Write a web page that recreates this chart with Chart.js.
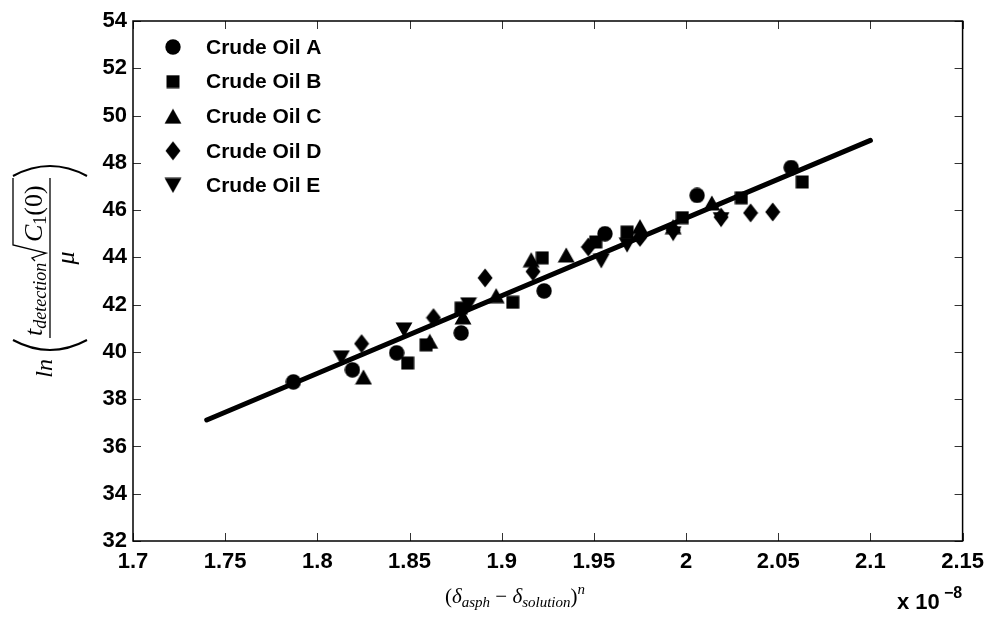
<!DOCTYPE html>
<html>
<head>
<meta charset="utf-8">
<script src="https://cdn.jsdelivr.net/npm/chart.js@4.4.1/dist/chart.umd.min.js"></script>
<style>
  html, body { margin: 0; padding: 0; background: #fff; }
</style>
</head>
<body>
<canvas id="myChart" width="992" height="622"></canvas>
<script>
(() => {
    // tick labels (x values are in units of 1e-8)
    const xTicks = [1.7, 1.75, 1.8, 1.85, 1.9, 1.95, 2, 2.05, 2.1, 2.15];
    const yTicks = [32, 34, 36, 38, 40, 42, 44, 46, 48, 50, 52, 54];

    const seriesNames = ["Crude Oil A", "Crude Oil B", "Crude Oil C", "Crude Oil D", "Crude Oil E"];

    const oilA_x = [1.787, 1.819, 1.843, 1.878, 1.923, 1.956, 2.006, 2.057];
    const oilA_y = [38.73, 39.24, 39.96, 40.8, 42.58, 45.0, 46.62, 47.8];

    const oilB_x = [1.849, 1.859, 1.878, 1.906, 1.922, 1.951, 1.968, 1.998, 2.030, 2.063];
    const oilB_y = [39.53, 40.3, 41.85, 42.1, 43.98, 44.65, 45.07, 45.68, 46.52, 47.19];

    const oilC_x = [1.825, 1.861, 1.879, 1.897, 1.916, 1.935, 1.975, 1.993, 2.014];
    const oilC_y = [38.94, 40.45, 41.48, 42.38, 43.9, 44.1, 45.3, 45.3, 46.3];

    const oilD_x = [1.824, 1.863, 1.891, 1.917, 1.947, 1.975, 1.993, 2.019, 2.035, 2.047];
    const oilD_y = [40.35, 41.45, 43.13, 43.4, 44.44, 44.85, 45.15, 45.7, 45.88, 45.92];

    const oilE_x = [1.813, 1.847, 1.882, 1.954, 1.968, 1.993, 2.019];
    const oilE_y = [39.75, 40.93, 41.99, 43.85, 44.52, 45.0, 45.6];

    // fitted line end points
    const fitX = [1.74, 2.10];
    const fitY = [37.12, 48.95];

    const toPoints = (xs, ys) => xs.map((x, i) => ({ x: x, y: ys[i] }));

    // marker images (MATLAB-like filled markers)
    const makeMarker = (w, h, draw) => {
        const c = document.createElement("canvas");
        c.width = w;
        c.height = h;
        const g = c.getContext("2d");
        g.fillStyle = "#000";
        g.beginPath();
        draw(g, w, h);
        g.closePath();
        g.fill();
        return c;
    };

    const circleMk = makeMarker(16, 16, (g) => g.arc(8, 8, 7.7, 0, Math.PI * 2));
    const squareMk = makeMarker(14, 14, (g) => g.rect(0.5, 0.5, 13, 13));
    const triMk = makeMarker(18, 16, (g) => {
        g.moveTo(9, 0.5);
        g.lineTo(17.5, 15.5);
        g.lineTo(0.5, 15.5);
    });
    const diamondMk = makeMarker(16, 20, (g) => {
        g.moveTo(8, 0.5);
        g.lineTo(15.5, 10);
        g.lineTo(8, 19.5);
        g.lineTo(0.5, 10);
    });
    const invTriMk = makeMarker(18, 16, (g) => {
        g.moveTo(0.5, 0.5);
        g.lineTo(17.5, 0.5);
        g.lineTo(9, 15.5);
    });

    const markers = [circleMk, squareMk, triMk, diamondMk, invTriMk];
    const seriesData = [
        toPoints(oilA_x, oilA_y),
        toPoints(oilB_x, oilB_y),
        toPoints(oilC_x, oilC_y),
        toPoints(oilD_x, oilD_y),
        toPoints(oilE_x, oilE_y),
    ];

    const datasets = seriesNames.map((name, i) => ({
        label: name,
        data: seriesData[i],
        pointStyle: markers[i],
        showLine: false,
        order: 1,
    }));
    datasets.push({
        label: "fit",
        type: "line",
        data: toPoints(fitX, fitY),
        borderColor: "#000",
        borderWidth: 5,
        pointRadius: 0,
        borderCapStyle: "round",
        order: 2,
    });

    const tickFont = { family: "'Liberation Sans', Arial, sans-serif", weight: "bold", size: 22 };

    // text pieces drawn left to right
    const runWidth = (ctx, runs) =>
        runs.reduce((w, r) => {
            ctx.font = r.font;
            return w + ctx.measureText(r.t).width;
        }, 0);
    const drawRuns = (ctx, x, y, runs) => {
        runs.forEach((r) => {
            ctx.font = r.font;
            ctx.fillText(r.t, x, y + (r.dy || 0));
            x += ctx.measureText(r.t).width;
        });
    };

    const decorPlugin = {
        id: "decor",
        afterDraw(chart) {
            const { ctx, chartArea: a, scales } = chart;
            ctx.save();

            // inward tick marks on all four sides
            ctx.strokeStyle = "#333";
            ctx.lineWidth = 1;
            xTicks.forEach((v) => {
                const px = Math.round(scales.x.getPixelForValue(v)) + 0.5;
                ctx.beginPath();
                ctx.moveTo(px, a.bottom);
                ctx.lineTo(px, a.bottom - 8);
                ctx.moveTo(px, a.top);
                ctx.lineTo(px, a.top + 8);
                ctx.stroke();
            });
            yTicks.forEach((v) => {
                const py = Math.round(scales.y.getPixelForValue(v)) + 0.5;
                ctx.beginPath();
                ctx.moveTo(a.left, py);
                ctx.lineTo(a.left + 8, py);
                ctx.moveTo(a.right, py);
                ctx.lineTo(a.right - 8, py);
                ctx.stroke();
            });

            // box
            ctx.strokeStyle = "#000";
            ctx.lineWidth = 1.5;
            ctx.strokeRect(a.left, a.top, a.right - a.left, a.bottom - a.top);

            // legend inside plot
            ctx.fillStyle = "#000";
            ctx.textBaseline = "middle";
            ctx.textAlign = "left";
            ctx.font = "bold 21px 'Liberation Sans', Arial, sans-serif";
            seriesNames.forEach((name, i) => {
                const ly = a.top + 26 + i * 34.6;
                const mk = markers[i];
                ctx.drawImage(mk, a.left + 40 - mk.width / 2, ly - mk.height / 2);
                ctx.fillText(name, a.left + 73, ly + 1);
            });

            // x axis title
            ctx.textBaseline = "alphabetic";
            const serif = "'Liberation Serif', 'DejaVu Serif', serif";
            const big = "21px " + serif;
            const bigI = "italic 21px " + serif;
            const smI = "italic 15px " + serif;
            const xRuns = [
                { t: "(", font: big },
                { t: "δ", font: bigI },
                { t: "asph", font: smI, dy: 4 },
                { t: " − ", font: big },
                { t: "δ", font: bigI },
                { t: "solution", font: smI, dy: 4 },
                { t: ")", font: big },
                { t: "n", font: smI, dy: -9 },
            ];
            const xw = runWidth(ctx, xRuns);
            drawRuns(ctx, 515 - xw / 2, 603, xRuns);

            // exponent label
            ctx.font = "bold 22px 'Liberation Sans', Arial, sans-serif";
            ctx.fillText("x 10", 897, 609);
            ctx.font = "bold 16px 'Liberation Sans', Arial, sans-serif";
            ctx.fillText("−8", 944, 598);

            // y axis title, rotated
            ctx.translate(50, 338);
            ctx.rotate(-Math.PI / 2);
            const yBig = "26px " + serif;
            const yBigI = "italic 26px " + serif;
            const ySmI = "italic 18px " + serif;
            const ySm = "18px " + serif;

            ctx.textAlign = "right";
            ctx.font = "italic 24px " + serif;
            ctx.fillText("ln", -21, 2);
            ctx.textAlign = "left";

            ctx.lineWidth = 2;
            ctx.beginPath();
            ctx.moveTo(-2, -37);
            ctx.quadraticCurveTo(-22, 0, -2, 37);
            ctx.moveTo(162, -37);
            ctx.quadraticCurveTo(182, 0, 162, 37);
            ctx.stroke();

            // fraction bar
            ctx.lineWidth = 1.3;
            ctx.beginPath();
            ctx.moveTo(0, 0);
            ctx.lineTo(160, 0);
            ctx.stroke();

            drawRuns(ctx, 2, -8, [
                { t: "t", font: yBigI },
                { t: "detection", font: ySmI, dy: 4 },
            ]);

            // radical sign
            ctx.lineWidth = 1.3;
            ctx.beginPath();
            ctx.moveTo(77, -15);
            ctx.lineTo(80, -18);
            ctx.lineTo(85, -4);
            ctx.lineTo(93, -37);
            ctx.lineTo(160, -37);
            ctx.stroke();

            drawRuns(ctx, 96, -8, [
                { t: "C", font: yBigI },
                { t: "1", font: ySm, dy: 4 },
                { t: "(0)", font: yBig },
            ]);

            ctx.font = yBigI;
            ctx.textAlign = "center";
            ctx.fillText("μ", 80, 24);

            ctx.restore();
        },
    };

    const initChart = () => {
        const ctx = document.getElementById("myChart").getContext("2d");
        new Chart(ctx, {
            type: "scatter",
            data: { datasets: datasets },
            options: {
                responsive: false,
                devicePixelRatio: 1,
                animation: false,
                layout: { padding: { top: 21, right: 29, left: 0, bottom: 0 } },
                plugins: {
                    legend: { display: false },
                    tooltip: { enabled: false },
                },
                scales: {
                    x: {
                        type: "linear",
                        min: 1.7,
                        max: 2.15,
                        afterBuildTicks: (s) => {
                            s.ticks = xTicks.map((v) => ({ value: v }));
                        },
                        afterFit: (s) => {
                            s.height = 81;
                        },
                        grid: { display: false, drawTicks: false },
                        border: { display: false },
                        ticks: {
                            font: tickFont,
                            color: "#000",
                            padding: 8,
                            maxRotation: 0,
                            autoSkip: false,
                            callback: (v) => String(parseFloat(Number(v).toFixed(2))),
                        },
                    },
                    y: {
                        type: "linear",
                        min: 32,
                        max: 54,
                        afterBuildTicks: (s) => {
                            s.ticks = yTicks.map((v) => ({ value: v }));
                        },
                        afterFit: (s) => {
                            s.width = 133;
                        },
                        grid: { display: false, drawTicks: false },
                        border: { display: false },
                        ticks: {
                            font: tickFont,
                            color: "#000",
                            padding: 6,
                            autoSkip: false,
                        },
                    },
                },
            },
            plugins: [decorPlugin],
        });
    };

    document.addEventListener("DOMContentLoaded", initChart);
})();
</script>
</body>
</html>
